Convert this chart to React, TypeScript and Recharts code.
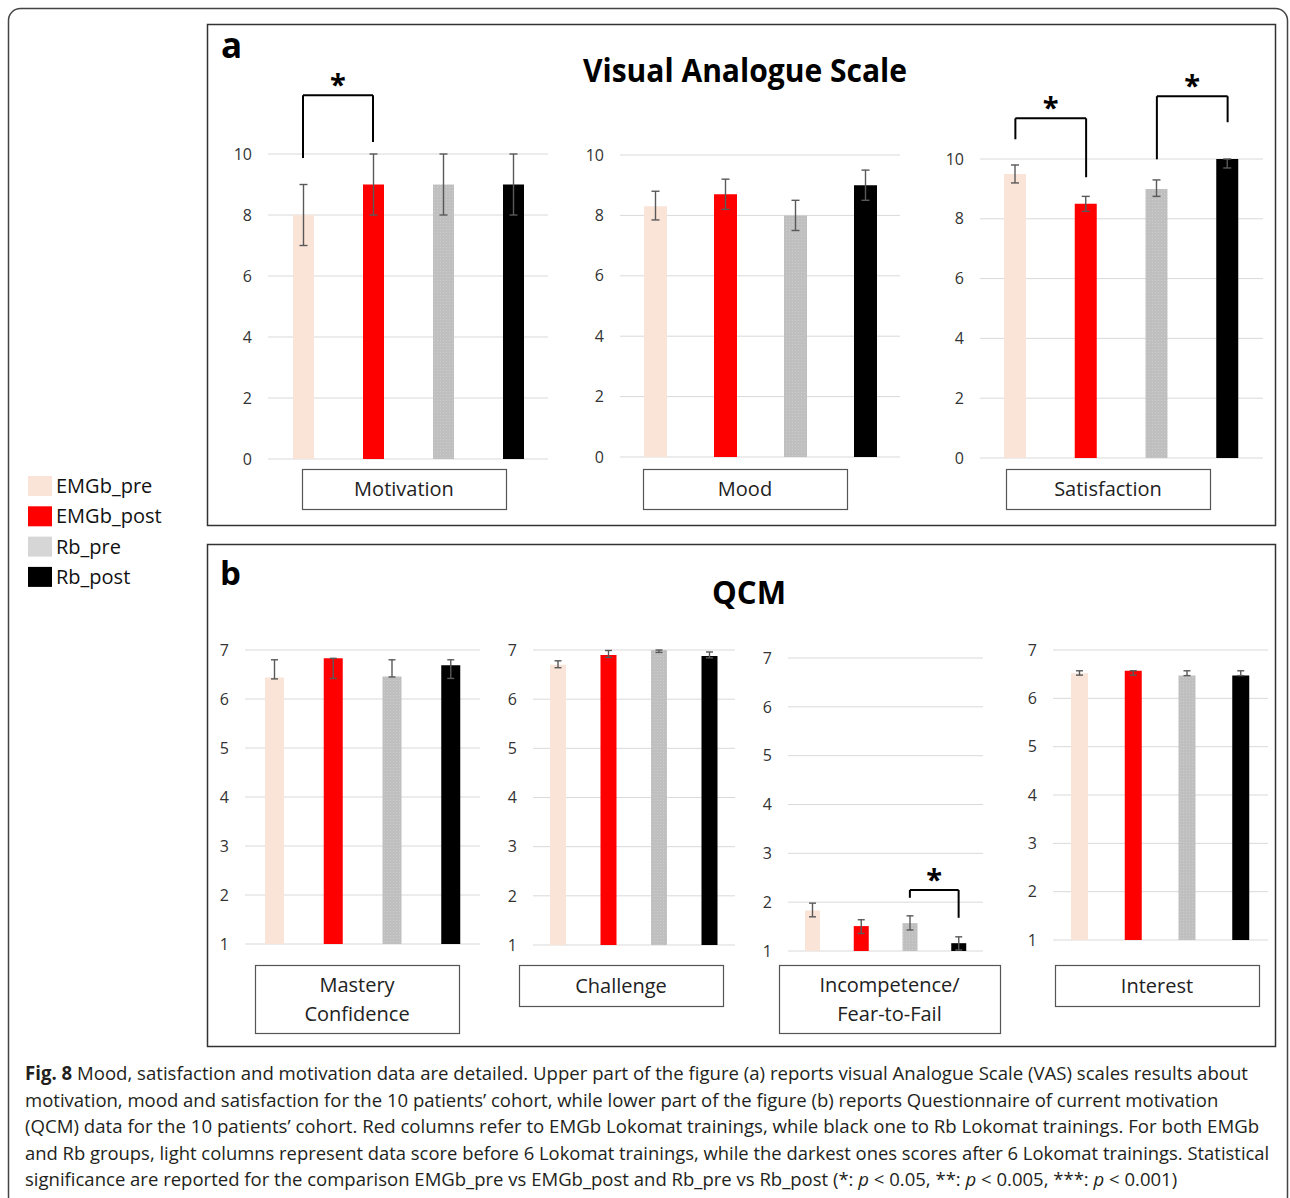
import React, { useLayoutEffect, useRef, useState } from "react";
import {
  BarChart,
  Bar,
  XAxis,
  YAxis,
  CartesianGrid,
  Cell,
  ErrorBar,
  ReferenceLine,
} from "recharts";

const FONT = '"Open Sans", "Noto Sans", sans-serif';

const groups = ["EMGb_pre", "EMGb_post", "Rb_pre", "Rb_post"];
const groupColors = ["#fae3d7", "#ff0000", "url(#rbDots)", "#000000"];

const vasTicks = [0, 2, 4, 6, 8, 10];
const qcmTicks = [1, 2, 3, 4, 5, 6, 7];

const vasLabels = ["Motivation", "Mood", "Satisfaction"];
const qcmLabels = [["Mastery", "Confidence"], ["Challenge"], ["Incompetence/", "Fear-to-Fail"], ["Interest"]];

// panel a - VAS
const motivationMean = [8, 9, 9, 9];
const motivationLow = [7, 8, 8, 8];
const motivationHigh = [9, 10, 10, 10];

const moodMean = [8.3, 8.7, 8.0, 9.0];
const moodLow = [7.85, 8.2, 7.5, 8.5];
const moodHigh = [8.8, 9.2, 8.5, 9.5];

const satisfactionMean = [9.5, 8.5, 9.0, 10];
const satisfactionLow = [9.2, 8.25, 8.75, 9.7];
const satisfactionHigh = [9.8, 8.75, 9.3, 10];

// panel b - QCM
const masteryMean = [6.44, 6.83, 6.46, 6.69];
const masteryLow = [6.41, 6.42, 6.45, 6.42];
const masteryHigh = [6.8, 6.83, 6.8, 6.8];

const challengeMean = [6.7, 6.9, 7.0, 6.88];
const challengeLow = [6.64, 6.85, 6.95, 6.84];
const challengeHigh = [6.78, 6.99, 7.0, 6.96];

const incompetenceMean = [1.83, 1.51, 1.57, 1.16];
const incompetenceLow = [1.7, 1.36, 1.43, 1.02];
const incompetenceHigh = [1.98, 1.64, 1.72, 1.29];

const interestMean = [6.52, 6.57, 6.47, 6.47];
const interestLow = [6.48, 6.48, 6.47, 6.47];
const interestHigh = [6.57, 6.57, 6.57, 6.57];

// significance brackets (indices into groups, y in data units)
const motivationBrackets = [{ from: 0, to: 1, leftEnd: 9.87, rightEnd: 10.39, top: 11.93 }];
const satisfactionBrackets = [
  { from: 0, to: 1, leftEnd: 10.66, rightEnd: 9.39, top: 11.36 },
  { from: 2, to: 3, leftEnd: 9.99, rightEnd: 11.23, top: 12.1 },
];
const incompetenceBrackets = [{ from: 2, to: 3, leftEnd: 2.09, rightEnd: 1.68, top: 2.25 }];

const captionLines = [
  "Mood, satisfaction and motivation data are detailed. Upper part of the figure (a) reports visual Analogue Scale (VAS) scales results about",
  "motivation, mood and satisfaction for the 10 patients\u2019 cohort, while lower part of the figure (b) reports Questionnaire of current motivation",
  "(QCM) data for the 10 patients\u2019 cohort. Red columns refer to EMGb Lokomat trainings, while black one to Rb Lokomat trainings. For both EMGb",
  "and Rb groups, light columns represent data score before 6 Lokomat trainings, while the darkest ones scores after 6 Lokomat trainings. Statistical",
];

type Bracket = { from: number; to: number; leftEnd: number; rightEnd: number; top: number };

function makeRows(mean: number[], low: number[], high: number[]) {
  return groups.map((g, i) => ({
    group: g,
    value: mean[i],
    err: [mean[i] - low[i], high[i] - mean[i]],
  }));
}

function bracketLines(brackets: Bracket[], key: string) {
  return brackets.flatMap((b, i) => {
    const a = groups[b.from];
    const c = groups[b.to];
    const common = { stroke: "#000", strokeWidth: 2, ifOverflow: "visible" as const };
    return [
      <ReferenceLine key={`${key}${i}l`} segment={[{ x: a, y: b.leftEnd }, { x: a, y: b.top }]} {...common} />,
      <ReferenceLine
        key={`${key}${i}t`}
        segment={[{ x: a, y: b.top }, { x: c, y: b.top }]}
        {...common}
        label={{ value: "*", position: "top", offset: 0, fontSize: 29, fontWeight: 700, fill: "#000", fontFamily: FONT }}
      />,
      <ReferenceLine key={`${key}${i}r`} segment={[{ x: c, y: b.top }, { x: c, y: b.rightEnd }]} {...common} />,
    ];
  });
}

interface SubChartProps {
  rows: { group: string; value: number; err: number[] }[];
  x0: number;
  x1: number;
  yTop: number;
  yBot: number;
  domain: [number, number];
  ticks: number[];
  barSize: number;
  capWidth: number;
  brackets?: Bracket[];
  extraTop?: number;
}

function SubChart({ rows, x0, x1, yTop, yBot, domain, ticks, barSize, capWidth, brackets = [], extraTop = 12 }: SubChartProps) {
  const axisW = 50;
  const width = x1 - x0 + axisW + 2;
  const height = yBot - yTop + extraTop + 10;
  return (
    <div style={{ position: "absolute", left: x0 - axisW, top: yTop - extraTop }}>
      <BarChart width={width} height={height} data={rows} margin={{ top: extraTop, right: 2, bottom: 10, left: 0 }}>
        <CartesianGrid vertical={false} stroke="#d9d9d9" />
        <XAxis dataKey="group" hide />
        <YAxis
          domain={domain}
          ticks={ticks}
          interval={0}
          width={axisW}
          axisLine={false}
          tickLine={false}
          tickMargin={10}
          tick={{ fontSize: 16, fill: "#333", fontFamily: FONT }}
        />
        <Bar dataKey="value" barSize={barSize} isAnimationActive={false}>
          {rows.map((r, i) => (
            <Cell key={r.group} fill={groupColors[i]} />
          ))}
          <ErrorBar dataKey="err" width={capWidth} stroke="#595959" strokeWidth={1.4} />
        </Bar>
        {bracketLines(brackets, "b")}
      </BarChart>
    </div>
  );
}

function LabelBox({ x, y, w, h, lines }: { x: number; y: number; w: number; h: number; lines: string[] }) {
  return (
    <g>
      <rect x={x + 0.5} y={y + 0.5} width={w} height={h} fill="#fff" stroke="#555" strokeWidth={1.2} />
      {lines.map((t, i) => (
        <text
          key={t}
          x={x + w / 2}
          y={y + h / 2 + 7 + (i - (lines.length - 1) / 2) * 29}
          textAnchor="middle"
          fontSize={20}
          fill="#222"
          fontFamily={FONT}
        >
          {t}
        </text>
      ))}
    </g>
  );
}

// caption line squeezed horizontally to the width it has in the figure
function CaptionLine({ top, width, children }: { top: number; width: number; children: React.ReactNode }) {
  const ref = useRef<HTMLSpanElement>(null);
  const [scale, setScale] = useState(1);
  useLayoutEffect(() => {
    if (ref.current) setScale(width / ref.current.offsetWidth);
  }, [width]);
  return (
    <div
      style={{
        position: "absolute",
        left: 25,
        top,
        whiteSpace: "nowrap",
        transform: `scaleX(${scale})`,
        transformOrigin: "0 0",
        fontFamily: FONT,
        fontSize: 19,
        lineHeight: "24px",
        color: "#231f20",
      }}
    >
      <span ref={ref}>{children}</span>
    </div>
  );
}

export default function App() {
  const vasBoxes = [302, 643, 1006];
  const qcmBoxes = [
    { x: 255, w: 204, h: 68 },
    { x: 519, w: 204, h: 41 },
    { x: 779, w: 221, h: 68 },
    { x: 1055, w: 204, h: 41 },
  ];
  const captionEnds = [1248, 1218, 1259, 1269, 1177];
  const captionTop = [1061, 1087.5, 1114, 1140.5, 1167];

  return (
    <div style={{ position: "absolute", left: 0, top: 0, width: 1290, height: 1198, background: "#fff", overflow: "hidden" }}>
      <svg width={1290} height={1198} style={{ position: "absolute", left: 0, top: 0 }}>
        <defs>
          <pattern id="rbDots" width={3} height={3} patternUnits="userSpaceOnUse">
            <rect width={3} height={3} fill="#bfbfbf" />
            <rect width={1} height={1} fill="#cdcdcd" />
          </pattern>
        </defs>
        <rect x={8.5} y={8.5} width={1279} height={1200} rx={12} fill="none" stroke="#444" strokeWidth={1.5} />
        <rect x={207.5} y={24.5} width={1068} height={501} fill="none" stroke="#333" strokeWidth={1.5} />
        <rect x={207.5} y={544.5} width={1068} height={502} fill="none" stroke="#333" strokeWidth={1.5} />

        <text x={221} y={58} fontSize={35} fontWeight={700} fontFamily={FONT} fill="#000">a</text>
        <text x={220} y={585} fontSize={33} fontWeight={700} fontFamily={FONT} fill="#000">b</text>
        <text x={583} y={82} fontSize={33} fontWeight={700} fontFamily={FONT} fill="#000" textLength={324} lengthAdjust="spacingAndGlyphs">
          Visual Analogue Scale
        </text>
        <text x={712} y={604} fontSize={33} fontWeight={700} fontFamily={FONT} fill="#000" textLength={74} lengthAdjust="spacingAndGlyphs">
          QCM
        </text>

        {vasLabels.map((l, i) => (
          <LabelBox key={l} x={vasBoxes[i]} y={469} w={204} h={40} lines={[l]} />
        ))}
        {qcmLabels.map((l, i) => (
          <LabelBox key={l[0]} x={qcmBoxes[i].x} y={965} w={qcmBoxes[i].w} h={qcmBoxes[i].h} lines={l} />
        ))}

        {groups.map((g, i) => (
          <g key={g}>
            <rect x={28} y={476 + i * 30.3} width={24} height={20} fill={i === 2 ? "#d6d6d6" : groupColors[i]} />
            <text x={56} y={493 + i * 30.3} fontSize={20} fill="#111" fontFamily={FONT}>
              {g}
            </text>
          </g>
        ))}
      </svg>

      <CaptionLine top={captionTop[0]} width={captionEnds[0] - 25}>
        <b>Fig. 8</b> {captionLines[0]}
      </CaptionLine>
      {captionLines.slice(1).map((l, i) => (
        <CaptionLine key={i} top={captionTop[i + 1]} width={captionEnds[i + 1] - 25}>
          {l}
        </CaptionLine>
      ))}
      <CaptionLine top={captionTop[4]} width={captionEnds[4] - 25}>
        significance are reported for the comparison EMGb_pre vs EMGb_post and Rb_pre vs Rb_post (*: <i>p</i> &lt; 0.05, **: <i>p</i> &lt;
        0.005, ***: <i>p</i> &lt; 0.001)
      </CaptionLine>

      <SubChart rows={makeRows(motivationMean, motivationLow, motivationHigh)} x0={268} x1={548} yTop={154} yBot={459} domain={[0, 10]} ticks={vasTicks} barSize={21} capWidth={4} brackets={motivationBrackets} extraTop={90} />
      <SubChart rows={makeRows(moodMean, moodLow, moodHigh)} x0={620} x1={900} yTop={155} yBot={457} domain={[0, 10]} ticks={vasTicks} barSize={23} capWidth={4} />
      <SubChart rows={makeRows(satisfactionMean, satisfactionLow, satisfactionHigh)} x0={980} x1={1263} yTop={159} yBot={458} domain={[0, 10]} ticks={vasTicks} barSize={22} capWidth={4} brackets={satisfactionBrackets} extraTop={95} />

      <SubChart rows={makeRows(masteryMean, masteryLow, masteryHigh)} x0={245} x1={480} yTop={650} yBot={944} domain={[1, 7]} ticks={qcmTicks} barSize={19} capWidth={3.5} />
      <SubChart rows={makeRows(challengeMean, challengeLow, challengeHigh)} x0={533} x1={735} yTop={650} yBot={945} domain={[1, 7]} ticks={qcmTicks} barSize={16} capWidth={3.5} />
      <SubChart rows={makeRows(incompetenceMean, incompetenceLow, incompetenceHigh)} x0={788} x1={983} yTop={658} yBot={951} domain={[1, 7]} ticks={qcmTicks} barSize={15} capWidth={3.5} brackets={incompetenceBrackets} />
      <SubChart rows={makeRows(interestMean, interestLow, interestHigh)} x0={1053} x1={1268} yTop={650} yBot={940} domain={[1, 7]} ticks={qcmTicks} barSize={17} capWidth={3.5} />
    </div>
  );
}
